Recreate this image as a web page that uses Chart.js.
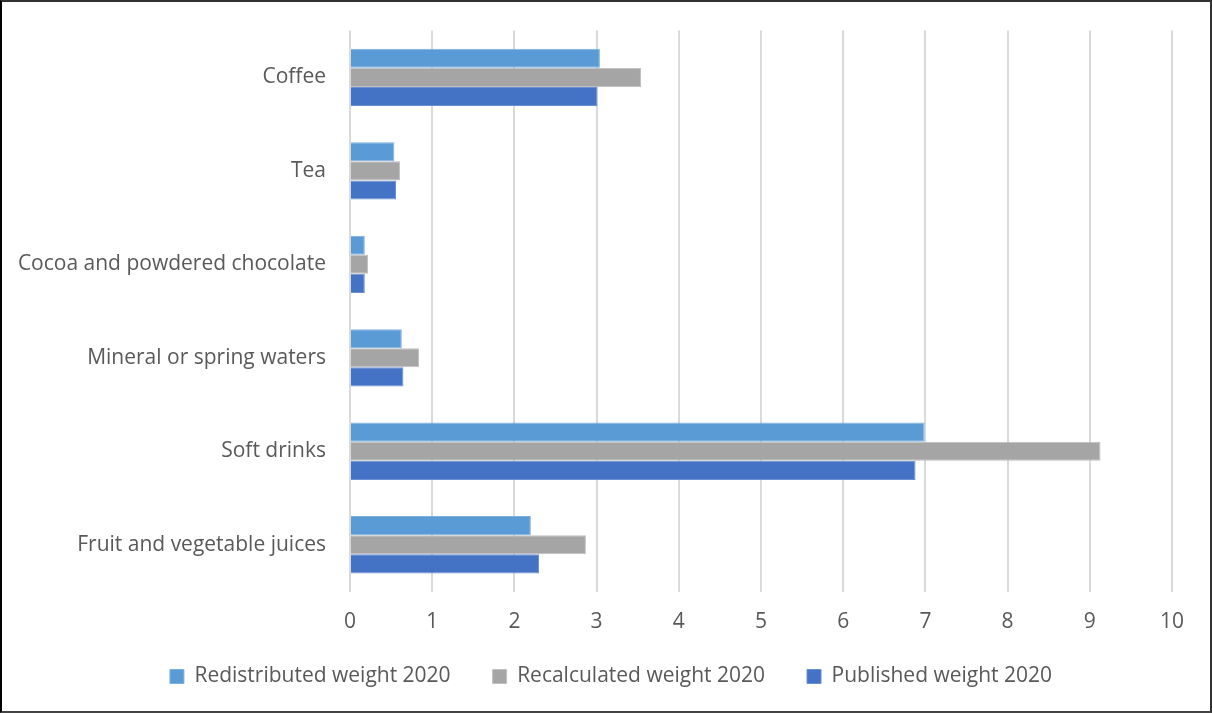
<!DOCTYPE html>
<html>
<head>
<meta charset="utf-8">
<script src="https://cdn.jsdelivr.net/npm/chart.js@4"></script>
<style>
  html, body { margin: 0; padding: 0; background: #fff; }
  #frame { width: 1212px; height: 713px; box-sizing: border-box; border: 2px solid #000; border-top-color:#333; border-right-color:#333; border-bottom-color:#444; position: relative; }
  #wrap { position: absolute; left: 0; top: 0; width: 1208px; height: 709px; }
</style>
</head>
<body>
<div id="frame"><div id="wrap"><canvas id="c"></canvas></div></div>
<script>
const categories = ["Coffee", "Tea", "Cocoa and powdered chocolate", "Mineral or spring waters", "Soft drinks", "Fruit and vegetable juices"];
const redistributed = [3.04, 0.54, 0.18, 0.63, 6.99, 2.20];
const recalculated  = [3.54, 0.61, 0.22, 0.84, 9.13, 2.87];
const published     = [3.01, 0.56, 0.18, 0.65, 6.88, 2.30];
const xTicks = [0,1,2,3,4,5,6,7,8,9,10];

const FONT = "'Open Sans', sans-serif";

const legendShift = {
  id: 'legendShift',
  afterLayout(chart) {
    if (chart.legend) { chart.legend.left += 24; chart.legend.right += 24; }
  }
};

new Chart(document.getElementById('c'), {
  type: 'bar',
  data: {
    labels: categories,
    datasets: [
      { label: 'Redistributed weight 2020', data: redistributed, backgroundColor: '#5B9BD5', borderColor: '#7FB1E0', borderWidth: 1 },
      { label: 'Recalculated weight 2020', data: recalculated, backgroundColor: '#A5A5A5', borderColor: '#C0C0C0', borderWidth: 1 },
      { label: 'Published weight 2020', data: published, backgroundColor: '#4472C4', borderColor: '#6A8FD2', borderWidth: 1 }
    ]
  },
  plugins: [legendShift],
  options: {
    indexAxis: 'y',
    responsive: true,
    maintainAspectRatio: false,
    animation: false,
    layout: { padding: { top: 28.5, right: 38, left: 0, bottom: 14 } },
    datasets: { bar: { categoryPercentage: 0.613, barPercentage: 1.0 } },
    plugins: {
      tooltip: { enabled: false },
      legend: {
        position: 'bottom',
        labels: {
          boxWidth: 14, boxHeight: 14, padding: 42,
          color: '#595959',
          font: { family: FONT, size: 21 }
        }
      }
    },
    scales: {
      x: {
        min: 0, max: 10,
        afterBuildTicks: (s) => { s.ticks = xTicks.map(v => ({ value: v })); },
        afterFit: (s) => { s.height = 32.5; s._computeLabelArea = () => undefined; },
        grid: { color: '#d9d9d9', lineWidth: 2, drawTicks: false },
        border: { display: false },
        ticks: { color: '#595959', padding: 18, font: { family: FONT, size: 21 } }
      },
      y: {
        afterFit: (s) => { s.width = 348; },
        grid: { display: false },
        border: { display: false },
        ticks: { color: '#595959', padding: 16, font: { family: FONT, size: 21 } }
      }
    }
  }
});
</script>
</body>
</html>
